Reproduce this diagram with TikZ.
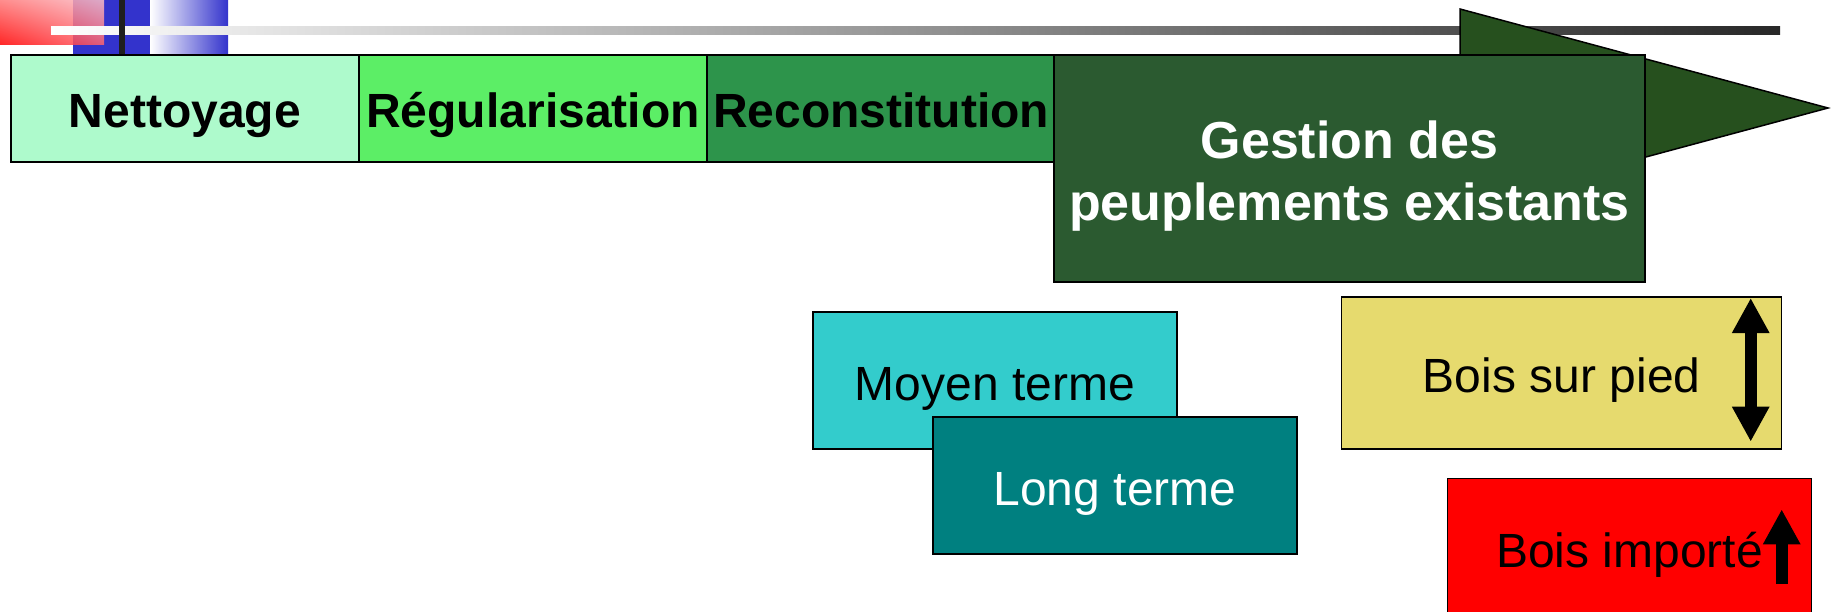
\documentclass[tikz,border=0pt]{standalone}
\usepackage{fontspec}
\setmainfont{Liberation Sans}
\usetikzlibrary{positioning,arrows.meta,shadings}
\definecolor{nettoyage}{RGB}{174,250,204}
\definecolor{regul}{RGB}{92,238,102}
\definecolor{recons}{RGB}{45,148,75}
\definecolor{gestion}{RGB}{43,90,48}
\definecolor{fleche}{RGB}{38,80,30}
\definecolor{moyen}{RGB}{51,204,204}
\definecolor{long}{RGB}{0,128,128}
\definecolor{pied}{RGB}{230,218,110}
\definecolor{bleu}{RGB}{51,51,204}
\definecolor{barre}{RGB}{40,40,40}
\definecolor{rougeA}{RGB}{255,120,120}
\definecolor{rougeB}{RGB}{255,100,110}
\definecolor{rougeC}{RGB}{250,190,200}
\tikzset{stage/.style={draw,line width=1.5pt,inner sep=0pt,outer sep=0pt,
		text height=40pt,text depth=1pt,font=\fontsize{48}{58}\selectfont},
	phase/.style={stage,minimum width=348pt,minimum height=107pt,
		font=\bfseries\fontsize{48}{58}\selectfont},
	term/.style={stage,minimum width=364pt,minimum height=137pt},
	fatarrow/.style={line width=12pt,>={Triangle[width=35pt,length=35pt]}},
	node distance = 0pt
	}

\begin{document}
\begin{tikzpicture}[x=1pt,y=-1pt] % gestion forestiere, phases et horizons
	\useasboundingbox (0,0) rectangle (1835,612);
	\clip (0,0) rectangle (1835,612);
	\fill[bleu] (73,0) rectangle (150,55);
	\shade[opacity=0.85,lower left=red,upper left=rougeA,
		lower right=rougeB,upper right=rougeC] (0,0) rectangle (104,45);
	\shade[left color=white,right color=bleu] (150,0) rectangle (228,54);
	\shade[left color=white,right color=barre] (51,27) rectangle (1780,35);
	\fill[black!88] (119,0) rectangle (125,55);
	\filldraw[fill=fleche,line width=1.5pt] (1460,9) -- (1828,108) -- (1460,207) -- cycle;
	\node[phase,fill=nettoyage] (netto) at (185,108.5) {Nettoyage};
	\node[phase,fill=regul] (regul) [right=of netto] {Régularisation};
	\node[phase,fill=recons] (recons) [right=of regul] {Reconstitution};
	\node[stage,fill=gestion,minimum width=591pt,minimum height=227pt] (gestion) at (1349.5,168.5) {};
	\node[font=\bfseries\fontsize{52}{62}\selectfont,text=white,align=center] (gestiontxt)
		at ([yshift=-8pt]gestion.center) {Gestion des\\peuplements existants};
	\node[term,fill=moyen] (moyen) at (995,380.5) {Moyen terme};
	\node[term,fill=long,text=white] (long) at (1115,485.5) {Long terme};
	\node[stage,fill=pied,minimum width=440pt,minimum height=152pt] (pied) at (1561.7,372.8) {Bois sur pied};
	\node[stage,fill=red,minimum width=364pt,minimum height=138pt] (import) at (1629.5,547.5) {Bois importé};
	\coordinate (piedhaut) at (1750.7,298);
	\coordinate (piedbas) at (1750.7,441.7);
	\coordinate (importbas) at (1781.7,584);
	\coordinate (importhaut) at (1781.7,509.3);
	\draw[fatarrow,<->] (piedhaut) -- (piedbas);
	\draw[fatarrow,->] (importbas) -- (importhaut);
\end{tikzpicture}
\end{document}
